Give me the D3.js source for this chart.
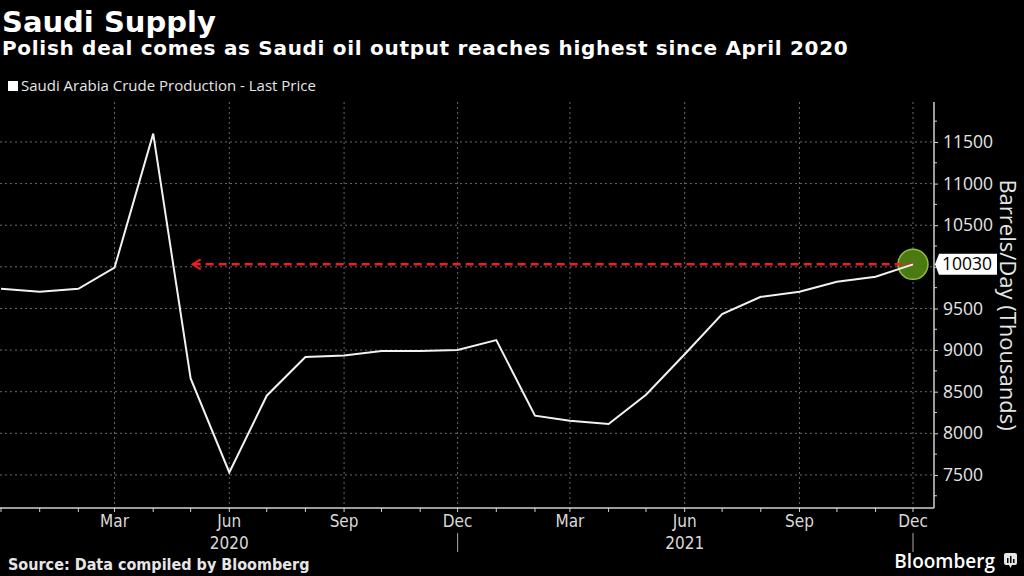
<!DOCTYPE html>
<html>
<head>
<meta charset="utf-8">
<script src="https://cdn.jsdelivr.net/npm/d3@7"></script>
<style>
  body { margin: 0; background: #000; }
  svg { display: block; }
  .title { font-family: "DejaVu Sans", sans-serif; font-weight: bold; fill: #fff; }
  .legend-text { font-family: "Open Sans", sans-serif; font-size: 15px; fill: #e6e6e6; }
  .x-label { font-family: "Liberation Sans Narrow", "DejaVu Sans Condensed", "Roboto", sans-serif; font-size: 17px; fill: #d9d9d9; }
  .y-label { font-family: "Open Sans", sans-serif; font-size: 17.5px; fill: #e6e6e6; }
  .grid line { stroke: #6a6a6a; stroke-dasharray: 2,3; stroke-width: 1; }
</style>
</head>
<body>
<svg id="chart" width="1024" height="576"></svg>
<script>
var width = 1024;
var height = 576;

// monthly data, Dec 2019 - Dec 2021
var months = ["2019-12", "2020-01", "2020-02", "2020-03", "2020-04", "2020-05", "2020-06",
    "2020-07", "2020-08", "2020-09", "2020-10", "2020-11", "2020-12",
    "2021-01", "2021-02", "2021-03", "2021-04", "2021-05", "2021-06",
    "2021-07", "2021-08", "2021-09", "2021-10", "2021-11", "2021-12"];
var production = [9736, 9700, 9736, 9990, 11600, 8660, 7530,
    8452, 8916, 8936, 8988, 8990, 9000,
    9120, 8212, 8152, 8112, 8464, 8950,
    9432, 9640, 9700, 9820, 9880, 10030];

var yTicks = [7500, 8000, 8500, 9000, 9500, 10000, 10500, 11000, 11500];
var xLabelMonths = ["2020-03", "2020-06", "2020-09", "2020-12", "2021-03", "2021-06", "2021-09", "2021-12"];
var yearLabels = [{ month: "2020-06", text: "2020" }, { month: "2021-06", text: "2021" }];
var yearBreaks = ["2020-12", "2021-12"];

var lastValue = 10030;
var arrowStart = "2020-05";

var parseMonth = d3.timeParse("%Y-%m");

var plotLeft = 0, plotRight = 934, plotTop = 102, plotBottom = 508;

var x = d3.scaleTime()
    .domain([parseMonth("2019-12"), parseMonth("2021-12")])
    .range([1, 913]);

var y = d3.scaleLinear()
    .domain([7103, 11980])
    .range([plotBottom, plotTop]);

var svg = d3.select("#chart");

svg.append("rect")
    .attr("width", width)
    .attr("height", height)
    .attr("fill", "#000");

/*====================================================================
       titles and legend
    ==================================================================*/
svg.append("text")
    .attr("class", "title")
    .attr("x", 2)
    .attr("y", 32)
    .style("font-size", "29px")
    .text("Saudi Supply");

svg.append("text")
    .attr("class", "title")
    .attr("x", 2)
    .attr("y", 55)
    .style("font-size", "20px")
    .style("letter-spacing", "0.7px")
    .text("Polish deal comes as Saudi oil output reaches highest since April 2020");

svg.append("rect")
    .attr("x", 8)
    .attr("y", 81)
    .attr("width", 10)
    .attr("height", 10)
    .attr("fill", "#fff");

svg.append("text")
    .attr("class", "legend-text")
    .attr("x", 21)
    .attr("y", 91)
    .text("Saudi Arabia Crude Production - Last Price");

/*====================================================================
       gridlines
    ==================================================================*/
var grid = svg.append("g").attr("class", "grid");

grid.selectAll(".hgrid")
    .data(yTicks)
    .enter()
    .append("line")
    .attr("x1", plotLeft)
    .attr("x2", plotRight)
    .attr("y1", function (d) { return y(d); })
    .attr("y2", function (d) { return y(d); });

grid.selectAll(".vgrid")
    .data(xLabelMonths)
    .enter()
    .append("line")
    .attr("x1", function (d) { return x(parseMonth(d)); })
    .attr("x2", function (d) { return x(parseMonth(d)); })
    .attr("y1", plotTop)
    .attr("y2", plotBottom);

/*====================================================================
       axes
    ==================================================================*/
var axisColor = "#d0d0d0";

// bottom axis line with monthly ticks
svg.append("line")
    .attr("x1", plotLeft)
    .attr("x2", plotRight)
    .attr("y1", plotBottom)
    .attr("y2", plotBottom)
    .attr("stroke", axisColor)
    .attr("stroke-width", 1.5);

svg.append("g")
    .selectAll("line")
    .data(months)
    .enter()
    .append("line")
    .attr("x1", function (d) { return x(parseMonth(d)); })
    .attr("x2", function (d) { return x(parseMonth(d)); })
    .attr("y1", plotBottom)
    .attr("y2", plotBottom + 4)
    .attr("stroke", axisColor);

svg.append("g")
    .selectAll("text")
    .data(xLabelMonths)
    .enter()
    .append("text")
    .attr("class", "x-label")
    .attr("x", function (d) { return x(parseMonth(d)); })
    .attr("y", 527)
    .attr("text-anchor", "middle")
    .text(function (d) { return d3.timeFormat("%b")(parseMonth(d)); });

svg.append("g")
    .selectAll("text")
    .data(yearLabels)
    .enter()
    .append("text")
    .attr("class", "x-label")
    .attr("x", function (d) { return x(parseMonth(d.month)); })
    .attr("y", 549)
    .attr("text-anchor", "middle")
    .text(function (d) { return d.text; });

svg.append("g")
    .selectAll("line")
    .data(yearBreaks)
    .enter()
    .append("line")
    .attr("x1", function (d) { return x(parseMonth(d)); })
    .attr("x2", function (d) { return x(parseMonth(d)); })
    .attr("y1", 533)
    .attr("y2", 552)
    .attr("stroke", "#aaa");

// right axis
var yAxis = d3.axisRight(y)
    .tickValues(yTicks)
    .tickSize(4)
    .tickPadding(5)
    .tickFormat(function (d) { return d === 10000 ? "" : d; });

var yAxisG = svg.append("g")
    .attr("transform", "translate(" + plotRight + ",0)")
    .call(yAxis);

yAxisG.select(".domain")
    .attr("d", "M0," + plotTop + "V" + plotBottom)
    .attr("stroke", axisColor)
    .attr("stroke-width", 1.5);
yAxisG.selectAll(".tick line").attr("stroke", axisColor);
yAxisG.selectAll(".tick text")
    .attr("class", "y-label")
    .attr("fill", null);

// minor ticks between the labelled values
var minorTicks = d3.range(7250, 11900, 500);
yAxisG.append("g")
    .selectAll("line")
    .data(minorTicks)
    .enter()
    .append("line")
    .attr("x1", 0)
    .attr("x2", 3)
    .attr("y1", function (d) { return y(d); })
    .attr("y2", function (d) { return y(d); })
    .attr("stroke", axisColor);

svg.append("text")
    .attr("class", "y-label")
    .attr("transform", "translate(1000,305) rotate(90)")
    .attr("text-anchor", "middle")
    .style("font-size", "22px")
    .text("Barrels/Day (Thousands)");

/*====================================================================
       last value marker, reference line and series
    ==================================================================*/
var lastDate = parseMonth(months[months.length - 1]);

svg.append("circle")
    .attr("cx", x(lastDate))
    .attr("cy", y(lastValue))
    .attr("r", 15)
    .attr("fill", "#4b7a12")
    .attr("stroke", "#8fbf3a")
    .attr("stroke-width", 1.5);

var ax = x(parseMonth(arrowStart)) + 2;
var ay = y(lastValue);

svg.append("line")
    .attr("x1", ax)
    .attr("x2", x(lastDate))
    .attr("y1", ay)
    .attr("y2", ay)
    .attr("stroke", "#ee1c25")
    .attr("stroke-width", 2.5)
    .attr("stroke-dasharray", "8,5");

svg.append("path")
    .attr("d", "M" + (ax + 8) + "," + (ay - 5) + "L" + ax + "," + ay + "L" + (ax + 8) + "," + (ay + 5))
    .attr("fill", "none")
    .attr("stroke", "#ee1c25")
    .attr("stroke-width", 2);

var line = d3.line()
    .x(function (d, i) { return x(parseMonth(months[i])); })
    .y(function (d) { return y(d); });

svg.append("path")
    .datum(production)
    .attr("d", line)
    .attr("fill", "none")
    .attr("stroke", "#f2f2f2")
    .attr("stroke-width", 2);

// last value tag on the axis
var tagY = y(lastValue);
svg.append("path")
    .attr("d", "M" + (plotRight + 1) + "," + tagY +
        "L" + (plotRight + 5) + "," + (tagY - 10.5) +
        "H" + 997 + "V" + (tagY + 10.5) +
        "H" + (plotRight + 5) + "Z")
    .attr("fill", "#fff");

svg.append("text")
    .attr("x", 942)
    .attr("y", tagY + 6)
    .attr("font-family", "Open Sans, sans-serif")
    .attr("font-size", "17.5px")
    .attr("fill", "#000")
    .text(lastValue);

/*====================================================================
       footer
    ==================================================================*/
svg.append("text")
    .attr("x", 8)
    .attr("y", 570)
    .attr("font-family", "Liberation Sans Narrow, DejaVu Sans Condensed, sans-serif")
    .attr("font-weight", "bold")
    .attr("font-size", "16px")
    .attr("fill", "#e6e6e6")
    .text("Source: Data compiled by Bloomberg");

svg.append("text")
    .attr("x", 995)
    .attr("y", 568)
    .attr("text-anchor", "end")
    .attr("font-family", "Open Sans, sans-serif")
    .attr("font-weight", "600")
    .attr("font-size", "19px")
    .attr("fill", "#fff")
    .text("Bloomberg");

// small logo glyph
var logo = svg.append("g").attr("transform", "translate(1004,553)");
logo.append("rect")
    .attr("width", 13)
    .attr("height", 12)
    .attr("rx", 2)
    .attr("fill", "#e6e6e6");
logo.append("path")
    .attr("d", "M5,12L6.5,15L8,12Z")
    .attr("fill", "#e6e6e6");
logo.selectAll(".bar")
    .data([[3, 5], [6, 3], [9, 6]])
    .enter()
    .append("rect")
    .attr("x", function (d) { return d[0]; })
    .attr("y", function (d) { return d[1]; })
    .attr("width", 1.5)
    .attr("height", function (d) { return 10 - d[1]; })
    .attr("fill", "#000");
</script>
</body>
</html>
